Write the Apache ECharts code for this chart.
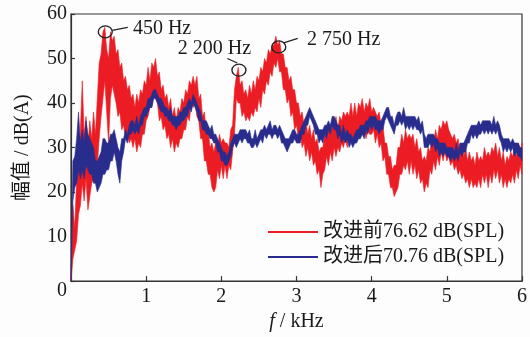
<!DOCTYPE html>
<html><head><meta charset="utf-8">
<script src="https://cdn.jsdelivr.net/npm/echarts@6/dist/echarts.min.js"></script>
<style>html,body{margin:0;padding:0;background:#fdfdfd;}#c{width:530px;height:337px;}</style>
</head><body><div id="c"></div>
<script>
// spectra sampled every 25 Hz from 0 to 6 kHz; each spectrum is a noisy band read as lower/upper envelope (dB)
const freqStepKHz = 0.025;
const seriesNames = ['改进前76.62 dB(SPL)', '改进后70.76 dB(SPL)'];
const xTicks = [0, 1, 2, 3, 4, 5, 6];
const yTicks = [0, 10, 20, 30, 40, 50, 60];

const beforeLow = [0,
 5,7,9,15,17,22,18,23,16,19, 22,23,24,26,32,37,41,45,38,31, 41,44,42,40,37,38,34,35,32,33, 31,32,30,32,29,31,30,33,33,36,
 37,39,39,42,41,40,36,37,34,35, 32,33,30,32,29,31,30,32,32,34, 34,37,36,40,39,40,37,36,32,32, 27,27,24,24,21,20,21,25,23,26,
 23,26,23,26,25,29,33,41,40,40, 37,38,36,37,36,38,37,39,38,41, 39,43,42,45,44,47,46,49,48,50, 47,47,43,43,40,41,37,38,34,35,
 32,33,30,31,28,30,27,29,26,27, 24,25,21,24,25,28,26,29,27,30, 28,30,29,31,30,32,30,33,31,32, 31,33,32,34,33,34,32,34,33,33,
 34,31,33,30,31,27,28,24,24,21, 21,19,20,21,24,24,26,25,27,24, 27,24,26,23,25,22,23,20,22,21, 25,24,27,25,28,26,29,27,29,27,
 28,26,27,25,26,24,25,23,24,22, 23,21,23,21,22,21,23,21,24,22, 24,21,24,22,25,23,25,22,24,21, 23,21,23,22,24,22,25,23,26,24];
const beforeHigh = [0,
 17,12,23,25,34,45,33,37,30,36, 32,38,33,41,49,51,56,57,52,50, 56,54,55,51,52,48,49,45,46,43, 44,41,42,39,42,40,43,42,45,44,
 48,45,49,48,50,46,47,43,44,41, 42,39,41,37,39,36,39,38,41,40, 43,42,45,44,46,44,46,41,42,37, 38,33,34,30,31,29,31,30,33,31,
 32,31,31,30,34,35,43,46,48,44, 45,42,43,41,44,42,45,43,46,45, 48,47,50,49,52,51,53,53,55,53, 54,51,51,48,48,45,46,43,43,40,
 40,37,38,35,36,33,35,32,34,31, 32,29,30,30,33,32,35,33,36,34, 37,34,37,36,38,37,38,37,40,37, 40,37,40,39,41,38,40,39,41,38,
 39,38,37,38,35,35,31,31,28,28, 25,26,26,30,30,33,31,34,32,33, 32,33,30,32,29,30,27,28,27,30, 29,32,31,34,32,35,34,36,35,36,
 34,33,32,33,31,32,29,31,28,30, 27,29,27,28,26,29,27,28,27,30, 28,29,28,30,29,31,28,30,27,29, 26,28,27,29,28,30,28,31,29,31];

const afterLow = [0,
 18,21,22,25,23,25,23,26,25,24, 24,22,22,20,21,22,24,24,25,25, 27,27,29,27,24,22,27,29,32,31, 33,33,34,33,34,33,35,35,37,37,
 38,39,39,41,41,40,39,38,38,37, 37,36,36,35,35,34,35,35,36,36, 37,37,39,38,40,39,38,36,36,34, 34,33,33,32,32,31,31,29,29,27,
 27,26,26,27,28,30,31,30,31,32, 31,32,32,31,31,30,30,31,30,31, 32,31,33,32,33,33,32,33,33,32, 33,31,31,30,29,30,31,31,32,31,
 31,31,33,33,35,35,37,36,35,33, 33,31,32,31,33,32,34,33,35,34, 34,32,33,31,32,31,32,30,31,30, 31,31,32,32,33,32,34,33,35,34,
 35,34,34,33,34,34,36,37,36,35, 34,33,35,35,36,35,36,34,35,34, 35,34,35,34,34,33,34,30,30,30, 31,30,31,29,30,28,29,28,29,28,
 28,27,28,27,28,27,29,28,29,29, 31,31,33,32,33,32,33,33,34,33, 34,33,34,33,34,33,34,32,31,29, 30,29,30,29,30,28,29,28,28,27];
const afterHigh = [0,
 27,28,32,38,31,34,31,36,33,32, 31,30,27,27,28,29,32,32,31,31, 33,33,34,32,30,29,32,32,34,33, 35,36,36,35,37,35,37,38,39,39,
 41,41,42,43,43,42,41,41,40,39, 39,38,39,37,37,37,37,38,38,39, 39,40,41,40,42,41,40,39,38,36, 36,36,35,34,35,33,33,32,31,30,
 29,29,28,29,31,32,33,33,33,34, 34,34,34,33,34,32,32,34,32,33, 34,34,35,34,35,36,34,35,35,34, 35,34,33,32,32,32,33,34,34,33,
 33,34,35,36,37,38,39,38,37,36, 35,34,34,34,35,35,36,35,37,37, 36,35,35,33,35,33,34,33,33,32, 33,34,34,35,35,35,36,36,37,37,
 37,37,36,36,36,37,38,39,39,37, 37,35,37,38,38,37,39,37,37,37, 37,37,37,36,37,35,36,33,32,33, 33,33,33,32,32,31,31,31,31,30,
 30,30,30,29,31,29,31,31,31,32, 33,34,35,35,35,35,36,35,36,36, 36,36,36,35,37,35,36,35,33,32, 32,32,32,31,32,31,31,31,30,30];

// peak annotations (kHz, dB)
const peakCircles = [[0.456, 56.0], [2.234, 47.4], [2.764, 52.6]];
const peakLabels = [
  {text: '450 Hz', at: [0.817, 56.7]},
  {text: '2 200 Hz', at: [1.413, 52.3]},
  {text: '2 750 Hz', at: [3.134, 54.3]}
];
const leaderLines = [
  [[0.548, 56.3], [0.755, 57.0]],
  [[2.080, 50.0], [2.212, 49.0]],
  [[2.830, 53.5], [3.016, 54.5]]
];

const RED = '#ec1c24', BLUE = '#282c8c';
const FONT = '"Liberation Serif", "Times New Roman", "DejaVu Serif", serif, "Noto Sans CJK SC"';
const TXT = '#1a1a1a';
const freqAt = i => +(i * freqStepKHz).toFixed(3);

function bandSeries(name, lo, hi, color, z) {
  const rows = hi.map((v, i) => [freqAt(i), lo[i], v]);
  return {
    name: name, type: 'custom', z: z, silent: true, data: rows,
    encode: {x: 0, y: [1, 2]},
    itemStyle: {color: color},
    renderItem: function (params, api) {
      if (params.dataIndex !== 0) return null;
      const pts = [];
      for (let i = 0; i < rows.length; i++) pts.push(api.coord([rows[i][0], rows[i][2]]));
      for (let i = rows.length - 1; i >= 0; i--) pts.push(api.coord([rows[i][0], rows[i][1]]));
      return {type: 'polygon', shape: {points: pts},
        style: {fill: color, stroke: color, lineWidth: 0.6}};
    }
  };
}

const markPointData = peakCircles.map(c => ({
  coord: c, symbol: 'circle', symbolSize: [14, 12],
  itemStyle: {color: 'rgba(0,0,0,0)', borderColor: '#222', borderWidth: 1.3},
  label: {show: false}
})).concat(peakLabels.map(l => ({
  coord: l.at, symbol: 'circle', symbolSize: 1,
  itemStyle: {color: 'rgba(0,0,0,0)'},
  label: {show: true, formatter: l.text, position: 'right', distance: 0,
    color: TXT, fontSize: 20, fontFamily: FONT}
})));

const chart = echarts.init(document.getElementById('c'), null, {renderer: 'canvas'});
chart.setOption({
  animation: false,
  backgroundColor: '#fdfdfd',
  grid: {left: 71, right: 6, top: 14, bottom: 51, show: true, borderColor: '#333', borderWidth: 1.2, backgroundColor: 'transparent'},
  legend: {
    orient: 'vertical', left: 268, top: 222, padding: 0, itemWidth: 50, itemHeight: 2, itemGap: 5,
    textStyle: {fontSize: 20, fontFamily: FONT, color: TXT},
    data: [{name: seriesNames[0], icon: 'rect'}, {name: seriesNames[1], icon: 'rect'}]
  },
  xAxis: {
    type: 'value', min: xTicks[0], max: xTicks[xTicks.length - 1], interval: 1,
    name: '{i|f} / kHz', nameLocation: 'middle', nameGap: 28,
    nameTextStyle: {fontSize: 20, fontFamily: FONT, color: TXT,
      rich: {i: {fontStyle: 'italic', fontSize: 20, fontFamily: FONT, color: TXT}}},
    axisLine: {show: true, lineStyle: {color: '#333', width: 1.2}},
    axisTick: {show: true, inside: true, length: 5, lineStyle: {color: '#333', width: 1.2}},
    axisLabel: {showMinLabel: false, margin: 6, fontSize: 20, fontFamily: FONT, color: TXT},
    splitLine: {show: false}
  },
  yAxis: {
    type: 'value', min: yTicks[0], max: yTicks[yTicks.length - 1], interval: 10,
    name: '幅值 / dB(A)', nameLocation: 'middle', nameGap: 38, nameRotate: 90,
    nameTextStyle: {fontSize: 20, fontFamily: FONT, color: TXT},
    axisLine: {show: true, lineStyle: {color: '#333', width: 1.2}},
    axisTick: {show: true, inside: true, length: 4, lineStyle: {color: '#333', width: 1.2}},
    axisLabel: {margin: 4, fontSize: 20, fontFamily: FONT, color: TXT, verticalAlignMinLabel: 'top'},
    splitLine: {show: false}
  },
  series: [
    bandSeries(seriesNames[0], beforeLow, beforeHigh, RED, 2),
    bandSeries(seriesNames[1], afterLow, afterHigh, BLUE, 3),
    {
      name: 'annotations', type: 'line', data: [], z: 5, silent: true,
      markPoint: {silent: true, animation: false, data: markPointData},
      markLine: {silent: true, animation: false, symbol: ['none', 'none'],
        lineStyle: {color: '#222', width: 1.3, type: 'solid'}, label: {show: false},
        data: leaderLines.map(s => [{coord: s[0]}, {coord: s[1]}])}
    }
  ]
});
</script></body></html>
